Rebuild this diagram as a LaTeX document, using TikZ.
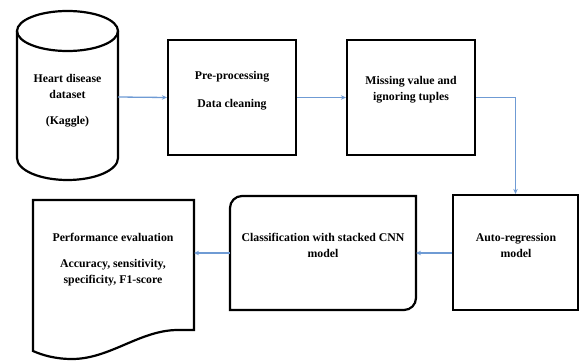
\documentclass[tikz,border=0pt]{standalone}
\usepackage{fontspec}
\setmainfont{Liberation Serif}
\usetikzlibrary{arrows.meta}
\definecolor{flow}{HTML}{6F9BD4}
\tikzset{
  shapeline/.style={draw=black, line width=2.2pt},
  txt/.style={font=\bfseries\fontsize{11.8}{16}\selectfont, align=center, inner sep=0pt},
  flowarrow/.style={draw=flow, line width=1.3pt, -{Stealth[length=5pt,width=4.5pt]}},
}
\begin{document}
\begin{tikzpicture}[x=1pt,y=-1pt]
\useasboundingbox (0,0) rectangle (580,361);
% cylinder
\draw[shapeline] (17,31) -- (17,158) arc[start angle=180,end angle=0,x radius=50.5,y radius=22] -- (118,31);
\draw[shapeline] (67.5,31) ellipse[x radius=50.5,y radius=20];
\node[txt] (heart) at (67.5,101) {Heart disease\\dataset\\[10pt](Kaggle)};
\coordinate (cylR) at (118,97);
% boxes
\node[shapeline, minimum width=128, minimum height=115, inner sep=0] (pre) at (232,97.5) {};
\node[txt] at (232,91) {Pre-processing\\[12pt]Data cleaning};
\node[shapeline, minimum width=128, minimum height=115, inner sep=0] (miss) at (411,97.5) {};
\node[txt] at (411,90) {Missing value and\\ignoring tuples};
\node[shapeline, minimum width=125, minimum height=115, inner sep=0] (auto) at (515.5,252.5) {};
\node[txt] at (516,245) {Auto-regression\\model};
% classification box (rounded top-left and bottom-right)
\draw[shapeline] (230,208) arc[start angle=180,end angle=270,radius=12] -- (416,196) -- (416,298) arc[start angle=0,end angle=90,radius=12] -- (230,310) -- cycle;
\coordinate (clsL) at (230,253);
\coordinate (clsR) at (416,253);
\node[txt] (cls) at (323,245) {Classification with stacked CNN\\model};
% document shape
\draw[shapeline] (33,200) -- (194,200) -- (194,330) -- (178,330) .. controls (140,330) and (110,359) .. (72,359) .. controls (55,359) and (42,355) .. (33,351) -- cycle;
\coordinate (docR) at (194,253);
\node[txt] (perf) at (113,260) {Performance evaluation\\[10pt]Accuracy, sensitivity,\\specificity, F1-score};
% connectors
\draw[flowarrow] (cylR) -- (pre.west);
\draw[flowarrow] (pre.east) -- (miss.west);
\draw[flowarrow] (miss.east) -| (auto.north);
\draw[flowarrow] (auto.west |- clsR) -- (clsR);
\draw[flowarrow] (clsL) -- (docR);
\end{tikzpicture}
\end{document}
